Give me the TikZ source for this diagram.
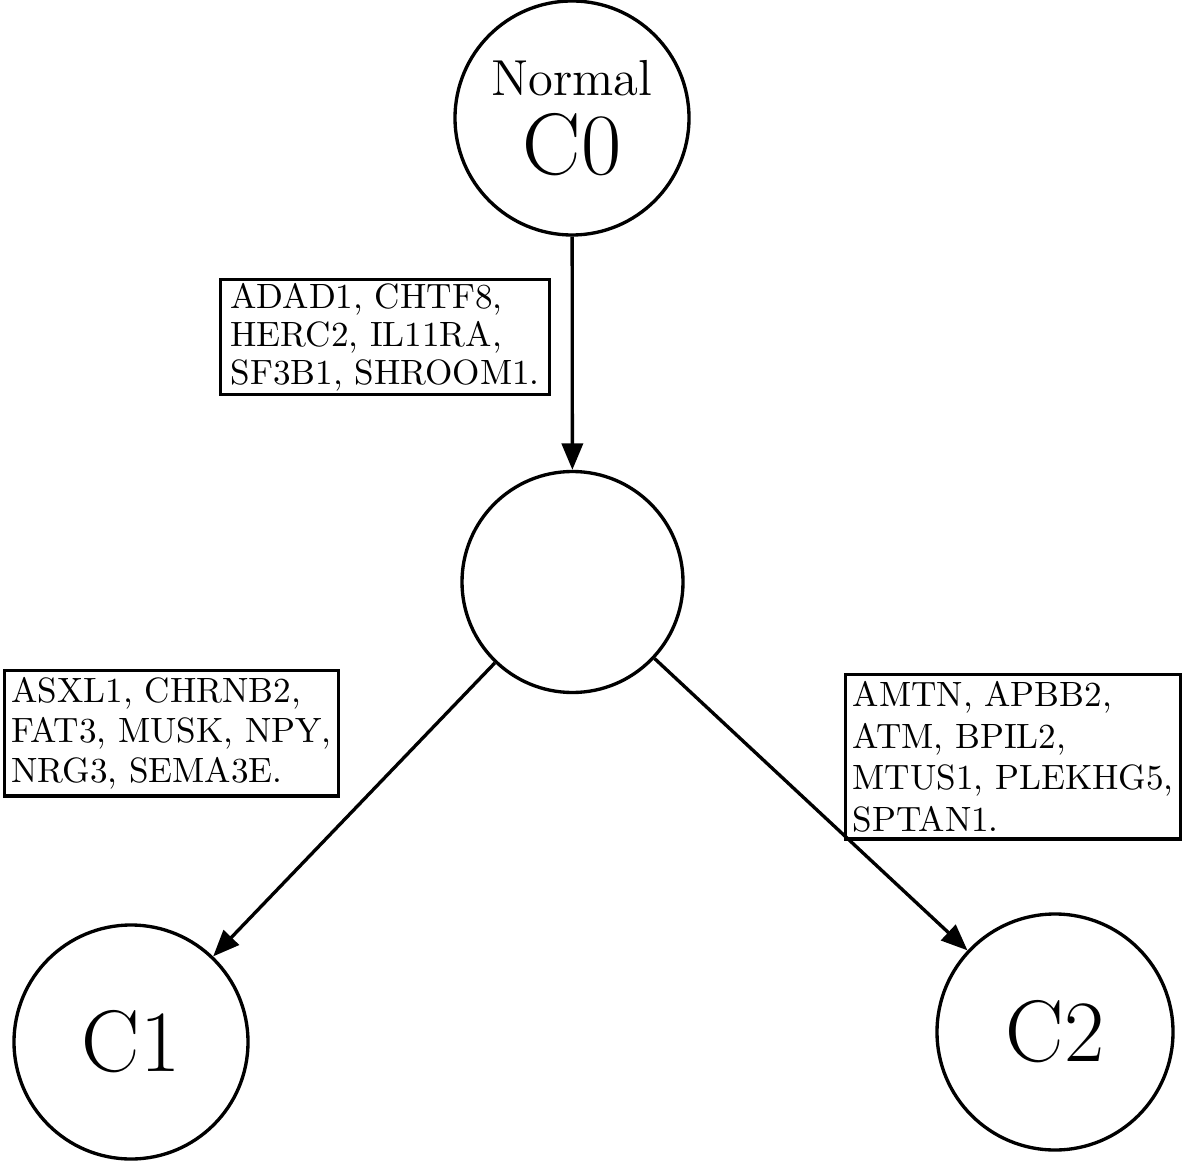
\documentclass[tikz,border=0pt]{standalone}
\usepackage{tikz}
\usetikzlibrary{arrows.meta,backgrounds,calc}
\begin{document}
\begin{tikzpicture}[
  clone/.style={circle,draw,line width=0.95pt,minimum size=2.34cm,inner sep=0pt},
  genes/.style={draw,rectangle,line width=0.95pt,align=left,anchor=north west,
    inner xsep=2pt,inner ysep=2pt,font=\fontsize{10}{11.3}\selectfont},
  mutarrow/.style={-{Triangle[length=7.5pt,width=6pt]},line width=0.95pt}]
\useasboundingbox (0,0) rectangle (11.84,-11.64);
\node[clone,align=center] (c0) at (5.72,-1.18) {{\Large Normal}\\[4pt]{\Huge C0}};
\node[clone,minimum size=2.21cm] (c01) at (5.725,-5.82) {};
\node[clone,font=\Huge] (c1) at (1.31,-10.42) {C1};
\node[clone,minimum size=2.36cm,font=\Huge] (c2) at (10.55,-10.32) {C2};
\draw[mutarrow] (c0) -- (c01);
\draw[mutarrow] (c01) -- (c1);
\draw[mutarrow] (c01) -- (c2);
\node[genes,inner ysep=1pt,inner xsep=2.8pt,font=\fontsize{10}{10.8}\selectfont] (g0) at (2.19,-2.78) {ADAD1, CHTF8,\\HERC2, IL11RA,\\SF3B1, SHROOM1.};
\node[genes] (g1) at (0.027,-6.69) {ASXL1, CHRNB2,\\FAT3, MUSK, NPY,\\NRG3, SEMA3E.};
\node[genes,font=\fontsize{10}{11.8}\selectfont] (g2) at (8.44,-6.73) {AMTN, APBB2,\\ATM, BPIL2,\\MTUS1, PLEKHG5,\\SPTAN1.};
\end{tikzpicture}
\end{document}
